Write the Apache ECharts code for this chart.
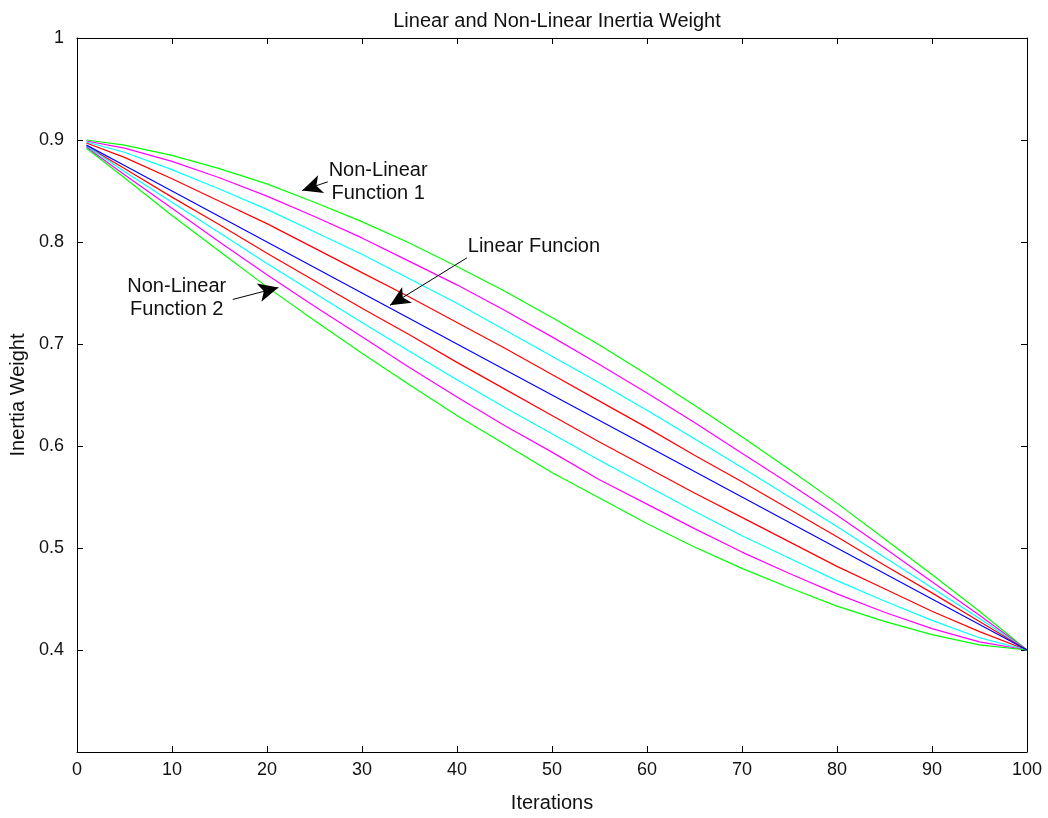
<!DOCTYPE html>
<html>
<head>
<meta charset="utf-8">
<script src="https://cdn.jsdelivr.net/npm/echarts/dist/echarts.min.js"></script>
<style>
html,body{margin:0;padding:0;background:#fff;}
#chart{width:1048px;height:818px;}
</style>
</head>
<body>
<div id="chart"></div>
<script>
// ---- data ----
const iterations = [1, 5, 10, 15, 20, 25, 30, 35, 40, 45, 50, 55, 60, 65, 70, 75, 80, 85, 90, 95, 100];
const linearFn     = [0.895, 0.875, 0.850, 0.825, 0.800, 0.775, 0.750, 0.725, 0.700, 0.675, 0.650, 0.625, 0.600, 0.575, 0.550, 0.525, 0.500, 0.475, 0.450, 0.425, 0.400];
const upperRed     = [0.897, 0.883, 0.862, 0.840, 0.818, 0.794, 0.770, 0.746, 0.721, 0.696, 0.670, 0.644, 0.618, 0.591, 0.565, 0.538, 0.511, 0.483, 0.456, 0.428, 0.400];
const upperCyan    = [0.898, 0.888, 0.871, 0.852, 0.832, 0.810, 0.788, 0.764, 0.740, 0.714, 0.688, 0.662, 0.635, 0.607, 0.579, 0.550, 0.521, 0.491, 0.461, 0.431, 0.400];
const upperMagenta = [0.899, 0.892, 0.879, 0.863, 0.845, 0.825, 0.804, 0.781, 0.758, 0.733, 0.707, 0.680, 0.652, 0.623, 0.593, 0.563, 0.532, 0.500, 0.467, 0.434, 0.400];
const upperGreen   = [0.900, 0.895, 0.885, 0.872, 0.857, 0.839, 0.820, 0.799, 0.776, 0.752, 0.726, 0.699, 0.670, 0.640, 0.609, 0.577, 0.544, 0.509, 0.474, 0.438, 0.400];
const lowerRed     = [0.894, 0.872, 0.844, 0.817, 0.789, 0.762, 0.735, 0.709, 0.682, 0.656, 0.630, 0.604, 0.579, 0.554, 0.530, 0.506, 0.482, 0.460, 0.438, 0.418, 0.400];
const lowerCyan    = [0.894, 0.869, 0.839, 0.809, 0.779, 0.750, 0.721, 0.693, 0.665, 0.638, 0.612, 0.586, 0.561, 0.536, 0.512, 0.490, 0.468, 0.448, 0.429, 0.412, 0.400];
const lowerMagenta = [0.893, 0.866, 0.833, 0.800, 0.768, 0.737, 0.707, 0.677, 0.648, 0.620, 0.594, 0.567, 0.543, 0.519, 0.496, 0.475, 0.455, 0.437, 0.421, 0.408, 0.400];
const lowerGreen   = [0.892, 0.863, 0.826, 0.791, 0.756, 0.723, 0.691, 0.660, 0.630, 0.602, 0.574, 0.549, 0.524, 0.501, 0.480, 0.461, 0.443, 0.428, 0.415, 0.405, 0.400];

const xTicks = [0, 10, 20, 30, 40, 50, 60, 70, 80, 90, 100];
const yTickLabels = ['', '0.4', '0.5', '0.6', '0.7', '0.8', '0.9', '1'];

const titleText = 'Linear and Non-Linear Inertia Weight';
const xName = 'Iterations';
const yName = 'Inertia Weight';

// annotations: text anchor and arrow (tail -> head) in data coordinates
const annotations = [
  { text: 'Non-Linear\nFunction 1', at: [31.7, 0.859], tail: [26.4, 0.859], head: [23.7, 0.8505] },
  { text: 'Linear Funcion',         at: [48.1, 0.796], tail: [41.05, 0.7845], head: [32.95, 0.7379] },
  { text: 'Non-Linear\nFunction 2', at: [10.5, 0.745], tail: [16.4, 0.7437], head: [21.2, 0.7553] }
];

const FONT = '"Liberation Sans", Arial, Helvetica, sans-serif';
const TXT = '#111';
const chart = echarts.init(document.getElementById('chart'), null, { renderer: 'canvas' });

function mk(name, arr, color) {
  return {
    name: name, type: 'line', data: iterations.map((t, i) => [t, arr[i]]),
    showSymbol: false, symbol: 'none', smooth: false, animation: false,
    lineStyle: { color: color, width: 1.2 }, itemStyle: { color: color },
    emphasis: { disabled: true }, silent: true
  };
}

const series = [
  mk('Upper green', upperGreen, '#00ff00'),
  mk('Upper magenta', upperMagenta, '#ff00ff'),
  mk('Upper cyan', upperCyan, '#00ffff'),
  mk('Upper red', upperRed, '#ff0000'),
  mk('Lower red', lowerRed, '#ff0000'),
  mk('Lower cyan', lowerCyan, '#00ffff'),
  mk('Lower magenta', lowerMagenta, '#ff00ff'),
  mk('Lower green', lowerGreen, '#00ff00'),
  mk('Linear', linearFn, '#0000ff')
];
series[series.length - 1].markLine = {
  silent: true, animation: false,
  symbol: ['none', 'arrow'], symbolSize: [14, 20],
  label: { show: false },
  lineStyle: { color: '#000', width: 1, type: 'solid' },
  emphasis: { disabled: true },
  data: annotations.map(a => [{ coord: a.tail }, { coord: a.head }])
};

const axisCommon = {
  axisLine: { show: true, onZero: false, lineStyle: { color: '#000', width: 1 } },
  axisTick: { show: true, inside: true, length: 6, lineStyle: { color: '#000' } },
  splitLine: { show: false }
};

const option = {
  backgroundColor: '#fff',
  animation: false,
  title: {
    text: titleText, left: 552, top: 6, textAlign: 'center',
    textStyle: { fontFamily: FONT, fontSize: 20, fontWeight: 'normal', color: TXT }
  },
  grid: { left: 77, right: 21, top: 38, bottom: 56, containLabel: false },
  xAxis: [
    Object.assign({
      type: 'value', min: 0, max: 100, interval: 10, position: 'bottom',
      axisLabel: { color: TXT, fontFamily: FONT, fontSize: 18, margin: 9,
        formatter: v => String(xTicks[Math.round(v / 10)]) },
      name: xName, nameLocation: 'middle', nameGap: 41,
      nameTextStyle: { color: TXT, fontFamily: FONT, fontSize: 20 }
    }, axisCommon),
    Object.assign({
      type: 'value', min: 0, max: 100, interval: 10, position: 'top',
      axisLabel: { show: false }
    }, axisCommon)
  ],
  yAxis: [
    Object.assign({
      type: 'value', min: 0.3, max: 1, interval: 0.1, position: 'left',
      axisLabel: { color: TXT, fontFamily: FONT, fontSize: 18, margin: 13,
        formatter: v => yTickLabels[Math.round((v - 0.3) * 10)] },
      name: yName, nameLocation: 'middle', nameGap: 46, nameRotate: 90,
      nameTextStyle: { color: TXT, fontFamily: FONT, fontSize: 20 }
    }, axisCommon),
    Object.assign({
      type: 'value', min: 0.3, max: 1, interval: 0.1, position: 'right',
      axisLabel: { show: false }
    }, axisCommon)
  ],
  series: series
};
chart.setOption(option);

// annotation texts positioned through the chart's own coordinate system
chart.setOption({
  graphic: annotations.map(a => {
    const p = chart.convertToPixel({ xAxisIndex: 0, yAxisIndex: 0 }, a.at);
    return {
      type: 'text', x: p[0], y: p[1], silent: true,
      style: { text: a.text, fill: TXT, font: '20px ' + FONT,
        align: 'center', verticalAlign: 'middle', lineHeight: 23 }
    };
  })
});
</script>
</body>
</html>
